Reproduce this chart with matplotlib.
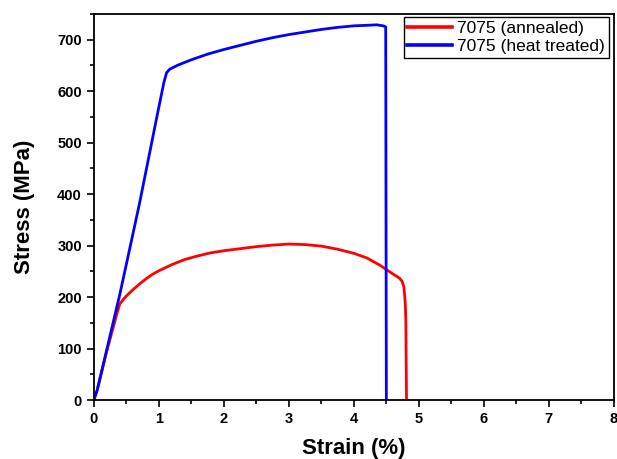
import numpy as np
import matplotlib
matplotlib.use('Agg')
import matplotlib.pyplot as plt

plt.rcParams['font.family'] = ['Liberation Sans', 'DejaVu Sans']

# strain (%) / stress (MPa)
strain_ann = [0.0, 0.05, 0.2, 0.35, 0.4, 0.5, 0.6, 0.7, 0.8, 0.9, 1.0, 1.2,
              1.4, 1.6, 1.8, 2.0, 2.25, 2.5, 2.75, 3.0, 3.25, 3.5, 3.75, 4.0,
              4.2, 4.4, 4.6, 4.7, 4.74, 4.77, 4.79, 4.8, 4.81]
stress_ann = [0, 18, 95, 165, 187, 202, 214, 225, 235, 244, 251, 263,
              273, 280, 286, 290, 294, 298, 301, 303, 302, 299, 293, 285,
              276, 262, 245, 237, 231, 220, 190, 155, 0]

strain_ht = [0.0, 0.05, 0.4, 0.7, 0.97, 1.08, 1.12, 1.17, 1.3, 1.5, 1.75, 2.0,
             2.25, 2.5, 2.75, 3.0, 3.25, 3.5, 3.75, 4.0, 4.2, 4.35, 4.45,
             4.49, 4.5]
stress_ht = [0, 18, 205, 380, 550, 618, 636, 643, 651, 661, 672, 681,
             689, 697, 704, 710, 715, 720, 724, 727, 728, 729, 727,
             725, 0]

fig = plt.figure(figsize=(6.17, 4.59), dpi=100)
ax = fig.add_axes([0.152, 0.1285, 0.843, 0.841])

ax.plot(strain_ann, stress_ann, color='#ff0000', lw=2.0, label='7075 (annealed)')
ax.plot(strain_ht, stress_ht, color='#0000ff', lw=2.0, label='7075 (heat treated)')

ax.set_xlim(0, 8)
ax.set_ylim(0, 750)
ax.set_xticks(np.arange(0, 9, 1))
ax.set_xticks(np.arange(0, 8.01, 0.5), minor=True)
ax.set_yticks(np.arange(0, 701, 100))
ax.set_yticks(np.arange(0, 751, 50), minor=True)
ax.tick_params(which='major', direction='out', length=5, width=1.2, labelsize=10.5)
ax.tick_params(which='minor', direction='out', length=3, width=1.2)
for lab in ax.get_xticklabels() + ax.get_yticklabels():
    lab.set_fontweight('bold')
for sp in ax.spines.values():
    sp.set_linewidth(1.3)

ax.set_xlabel('Strain (%)', fontsize=16, fontweight='bold', labelpad=9)
ax.set_ylabel('Stress (MPa)', fontsize=16, fontweight='bold', labelpad=16)

leg = ax.legend(loc='upper right', bbox_to_anchor=(0.99, 0.992), borderaxespad=0,
                fontsize=12.5, handlelength=2.6, handletextpad=0.3, borderpad=0.2,
                labelspacing=0.2, fancybox=False, framealpha=1)
leg.get_frame().set_edgecolor('black')
leg.get_frame().set_linewidth(1.0)
for line in leg.get_lines():
    line.set_linewidth(2.6)

fig.savefig('out.png', dpi=100)
